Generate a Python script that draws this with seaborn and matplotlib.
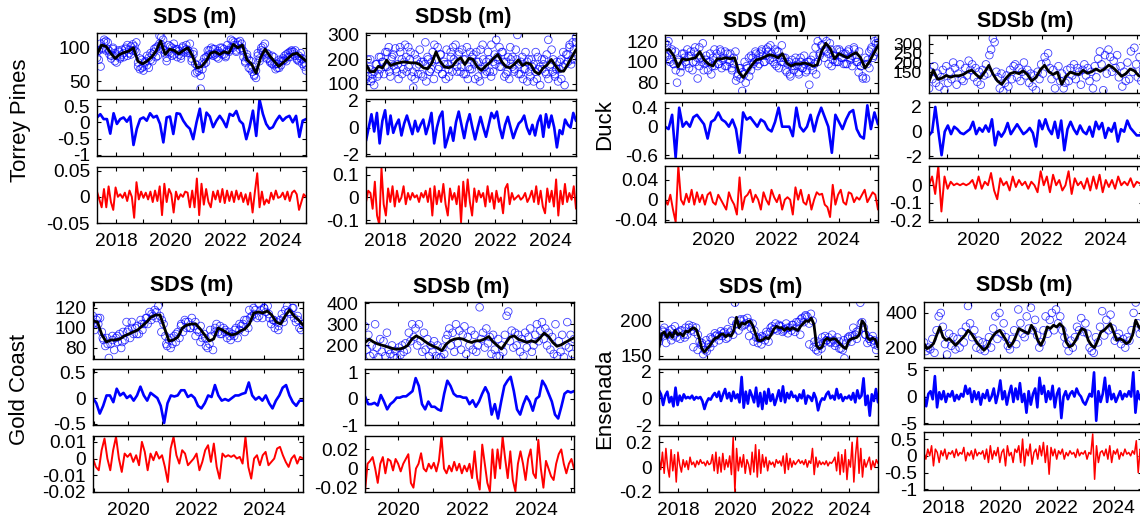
import numpy as np
import pandas as pd
import matplotlib
matplotlib.use("Agg")
import matplotlib.pyplot as plt
import seaborn as sns

# ---------------------------------------------------------------- data
# Torrey Pines
tp_span = (2017.3, 2024.95)
tp_sds_trend = [90, 104, 102, 92, 84, 90, 93, 95, 100, 80, 76, 80, 86, 95, 110, 90, 98, 96, 91, 96,
                100, 88, 70, 72, 80, 92, 94, 90, 94, 92, 105, 100, 104, 82, 76, 62, 85, 98, 88, 80,
                72, 78, 84, 90, 92, 86, 80]
tp_sds_pts = [85, 96, 72, 100, 108, 110, 98, 95, 88, 100, 80, 88, 94, 86, 97, 92, 100, 88, 97, 102,
              105, 96, 108, 72, 84, 70, 66, 80, 74, 85, 82, 90, 94, 100, 88, 118, 105, 112, 96, 85,
              104, 92, 100, 90, 98, 86, 95, 88, 100, 93, 104, 96, 92, 84, 90, 62, 74, 66, 39, 78,
              76, 86, 88, 96, 90, 98, 90, 86, 95, 92, 100, 90, 88, 96, 94, 112, 100, 108, 96, 104,
              110, 100, 95, 80, 86, 70, 80, 64, 58, 55, 88, 80, 96, 102, 106, 92, 84, 80, 76, 86,
              68, 76, 70, 80, 84, 82, 90, 86, 94, 96, 94, 88, 84, 80, 92, 76, 72, 66]
tp_sds_pts2 = [94, 82, 106, 98, 112, 96, 108, 90, 84, 98, 92, 78, 96, 84, 90, 86, 98, 104, 92, 90,
               96, 102, 94, 78, 68, 82, 72, 78, 88, 70, 92, 80, 98, 86, 102, 106, 116, 98, 92, 80,
               94, 102, 88, 106, 96, 98, 90, 84, 102, 96, 98, 92, 106, 80, 94, 76, 64, 70, 58, 68,
               84, 78, 96, 90, 100, 88, 98, 92, 84, 100, 90, 98, 86, 104, 96, 100, 110, 104, 94, 108,
               98, 106, 86, 78, 90, 82, 68, 72, 60, 66, 92, 84, 100, 94, 90, 84, 90, 78, 88, 74,
               76, 70, 82, 74, 80, 88, 80, 92, 86, 94, 90, 96, 82, 88, 84, 84, 78, 74]
tp_sds_blue = [0.15, 0.25, 0.10, 0.10, -0.35, 0.28, -0.05, 0.10, 0.15, 0.02, 0.18, -0.70, -0.20, 0.10,
               0.15, 0.05, 0.28, 0.15, 0.20, -0.05, -0.62, 0.15, 0.18, -0.36, 0.28, 0.26, 0.05, -0.10,
               -0.20, -0.52, 0.00, 0.42, -0.30, 0.30, 0.18, -0.15, 0.05, 0.20, 0.05, -0.15, 0.26, 0.20,
               0.35, 0.05, -0.05, -0.52, -0.15, 0.36, -0.42, 0.70, 0.26, -0.05, -0.20, -0.15, 0.05,
               0.20, 0.05, 0.15, 0.20, 0.00, 0.20, -0.45, 0.05, 0.10]
tp_sds_red = [0.01, -0.005, -0.02, 0.015, -0.02, 0.02, -0.01, -0.025, 0.018, 0.0, 0.005, -0.002, 0.008,
              -0.008, 0.012, 0.0, -0.04, 0.028, -0.005, 0.01, -0.002, 0.008, -0.005, 0.01, -0.01, 0.012,
              -0.008, 0.02, -0.035, 0.025, -0.01, 0.015, 0.005, -0.03, 0.01, -0.005, 0.005, 0.0, 0.01,
              0.008, -0.02, 0.012, -0.02, 0.035, -0.035, 0.025, -0.015, 0.015, -0.01, -0.02, 0.01,
              -0.005, 0.012, -0.01, 0.015, -0.012, 0.012, -0.008, 0.01, -0.01, 0.012, -0.005, 0.008,
              -0.01, 0.005, -0.015, 0.008, -0.03, 0.01, 0.045, -0.02, 0.01, -0.015, -0.005, -0.012,
              0.008, -0.005, 0.012, -0.002, 0.0, 0.008, -0.005, 0.01, -0.008, 0.008, 0.012, 0.005,
              -0.025, -0.01, 0.005, 0.0]

tp_sdsb_trend = [179, 150, 150, 172, 165, 197, 175, 182, 186, 190, 188, 186, 186, 180, 165, 162, 185,
                 231, 192, 170, 166, 172, 195, 207, 179, 205, 200, 170, 155, 172, 186, 205, 220, 190,
                 170, 166, 180, 198, 175, 186, 180, 150, 140, 165, 178, 200, 175, 152, 152, 180, 210, 240]
tp_sdsb_pts = [120, 200, 160, 110, 140, 95, 180, 130, 210, 160, 190, 140, 230, 170, 250, 130, 210, 175,
               245, 150, 120, 230, 200, 160, 260, 150, 250, 200, 130, 85, 220, 170, 140, 240, 190, 130,
               180, 110, 200, 150, 160, 230, 260, 200, 250, 170, 220, 140, 190, 120, 180, 130, 230, 150,
               200, 260, 170, 220, 150, 240, 140, 200, 250, 170, 230, 160, 220, 120, 190, 130, 110, 160,
               200, 140, 190, 230, 150, 260, 190, 220, 280, 200, 250, 170, 230, 130, 190, 150, 120, 200,
               210, 150, 240, 300, 180, 140, 210, 160, 230, 190, 200, 130, 170, 110, 150, 120, 160, 95,
               200, 180, 150, 220, 280, 170, 240, 200, 130, 160, 110, 190, 120, 170, 95, 220, 190, 250,
               180, 270, 200, 290]
tp_sdsb_pts2 = [160, 130, 200, 120, 150, 180, 140, 210, 190, 170, 230, 150, 200, 220, 160, 180, 250, 140,
                190, 210, 170, 230, 150, 120, 200, 180, 140, 190, 270, 210, 150, 190, 120, 200, 160,
                220, 140, 180, 240, 160, 210, 250, 190, 150, 230, 170, 200, 140, 120, 160, 210, 180,
                230, 190, 240, 260, 170, 150, 200, 130, 150, 180, 210, 170, 230, 190, 140, 210, 250,
                170, 160, 200, 140, 190, 120, 160, 110, 150, 200, 180, 230, 210, 170, 160, 200, 140,
                120, 180, 150, 140, 190, 160, 200, 230, 180, 220, 260, 200, 240, 270]
tp_sdsb_blue = [-1.0, 0.0, 1.0, -0.3, 1.1, -1.2, 0.5, 1.3, -0.5, 0.9, -0.4, 0.2, 0.6, -0.6, 0.3, 0.9,
                0.2, -0.5, 0.5, -0.3, 0.2, 0.6, -0.5, 0.2, 1.1, -1.2, 0.0, 0.8, 1.2, -1.5, -0.8, 0.0,
                -1.0, 0.4, 1.2, 0.2, -0.8, 0.3, 1.0, 0.0, -0.9, 0.0, 0.8, 0.0, -0.7, 0.2, 1.1, 0.7, 1.2,
                0.0, -0.8, 0.2, 0.8, 0.0, -0.8, -0.2, 0.3, 0.5, 0.9, 0.0, -0.5, 0.2, -0.6, 0.4, 0.9,
                -0.7, 1.0, 0.0, 0.9, 0.0, -1.5, -0.2, -0.5, 0.6, 0.2, 0.0, 1.1, 0.5]
tp_sdsb_red = [-0.02, 0.03, 0.02, -0.05, 0.07, -0.08, -0.12, 0.13, -0.03, -0.08, 0.04, -0.02, 0.05,
               -0.04, 0.03, -0.02, 0.0, 0.05, -0.03, 0.02, -0.01, 0.02, 0.0, 0.01, -0.02, 0.02, 0.0,
               0.03, -0.02, 0.04, -0.08, 0.05, -0.03, 0.03, -0.02, 0.06, -0.03, -0.08, 0.04, -0.01,
               0.02, -0.03, 0.05, -0.11, 0.07, -0.04, 0.08, -0.02, -0.08, 0.04, -0.02, 0.03, 0.0, 0.02,
               -0.04, 0.05, -0.02, 0.02, -0.05, 0.03, -0.02, 0.0, -0.07, 0.04, 0.06, -0.03, 0.02,
               -0.01, 0.0, 0.01, -0.01, 0.0, 0.02, -0.02, 0.0, 0.03, -0.02, 0.05, -0.03, 0.03, -0.04,
               -0.07, 0.04, -0.02, 0.03, -0.04, 0.08, -0.08, 0.03, -0.03, 0.06, -0.02, 0.02, -0.01,
               0.05, -0.05]

# Duck
duck_sds_span = (2018.46, 2025.25)
duck_sdsb_span = (2018.44, 2025.2)
duck_sds_trend = [111, 112, 106, 95, 103, 102, 103, 104, 110, 102, 98, 96, 103, 103, 104, 103, 104, 90,
                  85, 91, 97, 102, 103, 105, 107, 106, 104, 108, 99, 96, 98, 98, 99, 98, 96, 97, 110,
                  118, 113, 103, 108, 106, 104, 107, 109, 104, 94, 100, 108, 116]
duck_sds_pts = [118, 105, 120, 100, 112, 98, 110, 80, 102, 90, 96, 108, 100, 112, 94, 106, 92, 110, 100,
                84, 114, 104, 118, 98, 106, 92, 100, 88, 104, 96, 108, 98, 112, 94, 104, 110, 96, 102,
                108, 92, 98, 110, 86, 94, 84, 72, 88, 80, 94, 86, 92, 104, 100, 108, 96, 98, 110, 106,
                100, 112, 114, 102, 108, 100, 112, 96, 110, 104, 116, 100, 104, 90, 100, 86, 96, 92,
                104, 96, 88, 100, 94, 106, 90, 100, 78, 102, 92, 98, 88, 100, 106, 116, 124, 112, 120,
                108, 118, 96, 106, 100, 112, 100, 110, 104, 98, 108, 98, 112, 102, 106, 114, 104, 100,
                110, 96, 86, 98, 84, 102, 94, 112, 104, 120, 110, 118]
duck_sds_pts2 = [106, 116, 102, 110, 98, 92, 100, 96, 108, 104, 98, 106, 110, 100, 114, 104, 96, 100, 92,
                 102, 100, 108, 96, 112, 104, 98, 110, 102, 96, 108, 100, 94, 104, 82, 88, 94, 90, 100,
                 96, 104, 106, 98, 110, 102, 108, 112, 100, 106, 110, 116, 104, 98, 110, 94, 100, 104,
                 92, 98, 88, 102, 96, 100, 90, 104, 94, 98, 92, 100, 96, 106, 114, 120, 108, 116, 104,
                 110, 98, 112, 102, 106, 100, 112, 104, 108, 98, 110, 104, 96, 112, 100, 90, 96, 84,
                 104, 98, 110, 114, 106, 118, 122]
duck_sds_blue = [0.0, -0.05, 0.25, -0.65, 0.4, 0.0, 0.1, 0.0, 0.2, 0.25, 0.15, 0.05, -0.25, 0.1, 0.15,
                 0.3, 0.15, 0.1, 0.0, 0.15, -0.05, -0.55, 0.3, 0.15, 0.2, 0.1, 0.0, 0.15, 0.1, -0.05,
                 -0.1, 0.1, 0.4, 0.0, 0.0, 0.0, -0.2, 0.4, 0.0, -0.1, 0.0, 0.25, -0.1, 0.2, 0.4, 0.2,
                 0.0, -0.55, 0.25, 0.1, -0.05, 0.15, 0.3, 0.35, -0.05, -0.2, -0.25, 0.45, -0.05, 0.3,
                 0.05]
duck_sds_red = [0.0, -0.01, 0.01, -0.02, -0.045, 0.068, 0.0, -0.01, 0.012, -0.005, 0.02, -0.01, 0.015,
                -0.005, 0.01, -0.01, 0.01, 0.015, -0.005, -0.01, 0.01, 0.0, -0.01, -0.02, 0.015, 0.0,
                -0.01, -0.03, 0.045, -0.02, 0.005, 0.01, 0.02, -0.005, 0.01, 0.0, -0.02, 0.015, 0.0,
                -0.01, 0.02, 0.005, -0.005, 0.01, -0.02, 0.0, 0.005, 0.0, -0.03, 0.025, 0.0, 0.02,
                -0.005, -0.01, 0.01, -0.02, 0.0, 0.015, 0.01, 0.012, -0.01, -0.015, -0.035, 0.03, -0.01,
                0.01, 0.02, -0.005, -0.01, 0.015, 0.012, -0.005, 0.005, 0.0, 0.01, 0.02, -0.005, 0.005,
                0.015, 0.01, -0.02]

duck_sdsb_trend = [97, 160, 110, 115, 130, 120, 128, 128, 135, 150, 159, 135, 115, 148, 185, 135, 100,
                   82, 115, 140, 148, 140, 155, 135, 100, 120, 160, 185, 150, 135, 148, 82, 125, 148,
                   140, 135, 158, 142, 150, 165, 152, 165, 186, 172, 150, 125, 140, 165, 155, 128, 124]
duck_sdsb_pts = [60, 150, 110, 180, 90, 140, 70, 120, 160, 50, 180, 90, 150, 110, 200, 170, 80, 140, 190,
                 110, 100, 170, 130, 210, 160, 190, 120, 170, 95, 150, 80, 160, 130, 190, 140, 240, 270,
                 330, 310, 150, 120, 60, 140, 45, 90, 130, 70, 160, 110, 180, 190, 120, 170, 100, 150,
                 200, 130, 160, 90, 140, 70, 130, 50, 150, 110, 190, 140, 230, 200, 250, 170, 110, 160,
                 60, 130, 180, 100, 140, 60, 90, 160, 100, 170, 130, 190, 110, 170, 150, 80, 160, 190,
                 130, 170, 100, 150, 60, 180, 120, 220, 260, 190, 50, 240, 140, 270, 230, 150, 210, 170,
                 240, 120, 180, 70, 150, 100, 200, 110, 260, 150, 280, 190, 120, 230, 100, 160]
duck_sdsb_blue = [-0.3, 0.0, 2.0, 0.0, -1.9, 0.0, 0.5, -0.2, 0.4, 0.2, -0.1, -0.2, 0.0, 0.2, 0.8, -0.2,
                  0.3, 0.0, 0.5, 0.0, 1.0, -1.1, 0.0, -0.4, 0.0, 0.7, -0.2, 0.2, 0.6, 0.2, -0.2, 0.0, 0.3,
                  -0.1, -1.2, 0.9, 0.2, 1.0, 0.2, -0.2, 0.8, -0.5, 0.9, -1.5, 0.2, 0.8, 0.2, -0.2, 0.5,
                  0.0, -0.2, 0.4, -0.4, 0.8, 0.2, 0.7, -0.5, 0.3, 0.0, 0.7, -0.8, 0.2, 0.0, 0.9, 0.3,
                  0.0, -0.3, -0.3, -0.1]
duck_sdsb_red = [0.0, 0.05, -0.05, 0.11, -0.15, 0.05, -0.02, 0.02, 0.0, 0.01, 0.0, 0.01, 0.0, 0.01, 0.03,
                 -0.02, 0.05, -0.02, 0.02, 0.0, 0.07, -0.03, -0.08, 0.04, 0.0, 0.02, -0.03, 0.05, -0.01,
                 0.03, 0.0, 0.02, -0.02, 0.02, 0.0, -0.04, 0.08, 0.0, 0.05, -0.04, 0.06, 0.0, 0.03,
                 -0.03, 0.0, 0.08, -0.05, 0.04, 0.0, 0.02, -0.02, 0.04, -0.03, 0.05, -0.02, 0.06, -0.04,
                 0.03, -0.01, 0.03, -0.02, 0.05, 0.0, 0.02, 0.0, 0.04, -0.01, 0.02, 0.01, 0.02]

# Gold Coast
gc_sds_span = (2018.97, 2025.15)
gc_sdsb_span = (2019.04, 2025.1)
gc_sds_trend = [107, 106, 93, 86, 88, 88, 89, 92, 94, 96, 98, 102, 106, 111, 113, 113, 100, 87, 88, 91,
                100, 103, 104, 104, 99, 93, 87, 89, 100, 98, 95, 93, 94, 97, 99, 104, 115, 116, 115,
                117, 113, 106, 104, 112, 118, 112, 108, 103]
gc_sds_pts = [112, 98, 108, 104, 110, 96, 88, 82, 90, 70, 84, 92, 78, 90, 86, 94, 80, 96, 88, 106, 98,
              90, 106, 94, 100, 102, 94, 108, 98, 104, 110, 104, 116, 108, 112, 118, 110, 122, 112, 108,
              104, 92, 82, 88, 80, 84, 92, 86, 96, 90, 104, 96, 108, 100, 106, 100, 110, 102, 106, 98,
              96, 102, 90, 94, 82, 80, 84, 92, 78, 96, 104, 96, 102, 94, 100, 98, 90, 96, 88, 94, 92,
              100, 90, 98, 102, 104, 96, 108, 100, 110, 112, 120, 118, 110, 124, 118, 110, 120, 116,
              122, 110, 104, 108, 100, 106, 98, 108, 114, 106, 118, 122, 116, 114, 120, 110, 106, 112,
              100, 98, 104]
gc_sds_pts2 = [104, 110, 90, 84, 88, 92, 86, 96, 100, 94, 104, 110, 114, 116, 96, 84, 90, 94, 102, 106,
               100, 92, 86, 90, 98, 100, 94, 96, 92, 98, 104, 108, 118, 114, 112, 120, 114, 108, 102,
               110, 116, 120, 108, 104]
gc_sds_blue = [0.0, -0.1, -0.3, -0.15, 0.05, 0.05, -0.08, 0.18, 0.05, 0.1, 0.0, 0.05, -0.05, 0.05, 0.22,
               0.05, -0.05, 0.1, 0.05, 0.0, -0.15, -0.48, -0.1, 0.05, 0.03, 0.05, 0.15, 0.15, 0.02,
               0.06, 0.0, -0.15, -0.2, -0.1, 0.05, 0.02, 0.25, 0.05, -0.05, -0.02, -0.05, 0.0, 0.05,
               0.05, 0.08, 0.1, 0.3, 0.05, -0.03, 0.02, -0.05, 0.05, -0.1, -0.2, -0.05, 0.05, 0.2, 0.25,
               0.05, -0.08, -0.15, -0.05, -0.05]
gc_sds_red = [0.0, -0.005, -0.007, 0.005, 0.012, 0.0, -0.007, 0.005, 0.013, 0.0, -0.008, 0.003, 0.001,
              0.003, -0.002, 0.002, -0.004, 0.01, 0.004, -0.007, 0.003, -0.001, 0.004, 0.0, 0.002,
              -0.005, -0.014, 0.006, 0.013, 0.002, -0.003, 0.005, 0.003, -0.004, -0.002, 0.0, 0.003,
              -0.007, -0.002, 0.005, 0.008, -0.002, 0.009, -0.005, -0.012, 0.003, 0.001, 0.002, 0.001,
              0.002, 0.0, 0.001, -0.003, 0.013, -0.005, -0.012, 0.0, 0.002, -0.004, 0.002, 0.004,
              -0.004, -0.002, 0.0, 0.006, 0.007, 0.002, -0.002, -0.005, 0.0, 0.002, -0.003, 0.001, 0.0]

gc_sdsb_trend = [214, 230, 216, 207, 201, 195, 188, 183, 183, 188, 200, 230, 245, 235, 220, 206, 196,
                 188, 175, 205, 222, 230, 233, 230, 220, 214, 222, 222, 230, 242, 218, 200, 183, 212,
                 240, 245, 228, 222, 214, 222, 215, 235, 258, 243, 215, 196, 203, 215, 226, 236]
gc_sdsb_pts = [290, 180, 250, 150, 200, 160, 300, 190, 145, 230, 170, 220, 150, 260, 180, 160, 200, 150,
               175, 140, 190, 155, 200, 170, 210, 180, 260, 220, 300, 240, 280, 200, 300, 220, 170, 260,
               180, 230, 150, 200, 170, 220, 150, 200, 140, 145, 190, 160, 230, 250, 280, 200, 260, 170,
               300, 210, 270, 180, 250, 290, 160, 240, 200, 270, 180, 250, 170, 200, 380, 230, 260, 190,
               280, 210, 240, 160, 250, 180, 150, 230, 150, 200, 170, 250, 340, 360, 220, 270, 190, 260,
               200, 250, 170, 230, 150, 260, 190, 240, 280, 170, 200, 250, 300, 220, 270, 310, 230, 280,
               200, 260, 180, 240, 160, 300, 150, 220, 170, 250, 145, 200, 310, 190, 250, 160, 230]
gc_sdsb_blue = [0.1, -0.2, -0.2, -0.15, -0.25, 0.15, -0.1, -0.4, -0.2, -0.1, 0.05, 0.05, 0.1, 0.1, 0.2,
                0.3, 0.8, 0.5, -0.2, -0.4, -0.1, -0.3, -0.3, -0.4, -0.45, 0.2, 0.7, 0.5, 0.2, 0.1, 0.1,
                0.05, 0.05, -0.2, -0.05, -0.3, -0.1, 0.2, 0.45, 0.2, -0.6, -0.2, -0.75, -0.1, 0.5, 0.7,
                0.85, 0.3, -0.4, -0.6, -0.2, 0.1, -0.1, -0.45, 0.0, 0.1, 0.7, 0.5, 0.2, -0.1, -0.6,
                -0.75, -0.3, 0.2, 0.3, 0.25, 0.3]
gc_sdsb_red = [-0.024, 0.005, 0.008, 0.012, 0.0, -0.015, 0.005, 0.012, -0.005, 0.01, 0.008, -0.002,
               0.01, 0.005, -0.003, 0.005, 0.01, 0.015, -0.015, -0.02, 0.0, 0.005, 0.016, 0.0, -0.003,
               0.005, 0.0, 0.006, -0.003, 0.008, 0.034, 0.0, -0.005, 0.003, -0.003, 0.007, -0.002,
               0.005, -0.005, 0.003, -0.003, 0.005, -0.01, 0.018, -0.01, -0.022, 0.025, 0.005, -0.015,
               -0.024, 0.02, -0.01, 0.02, 0.0, 0.033, 0.01, -0.01, 0.018, -0.012, -0.024, 0.005, 0.018,
               0.005, -0.012, 0.01, 0.02, -0.005, -0.01, 0.03, 0.0, -0.02, 0.008, 0.0, -0.008, -0.012,
               0.005, 0.015, 0.02, 0.005, -0.005, 0.005, 0.01, 0.0]

# Ensenada
ens_span = (2017.33, 2025.0)
ens_sds_trend = [162, 181, 184, 176, 183, 176, 186, 180, 182, 178, 185, 184, 188, 190, 187, 176, 160,
                 155, 160, 164, 170, 175, 176, 180, 181, 177, 180, 178, 186, 205, 190, 197, 195, 198,
                 200, 194, 183, 172, 171, 173, 176, 174, 180, 188, 192, 190, 190, 186, 190, 187, 190,
                 188, 186, 192, 196, 200, 199, 204, 195, 164, 160, 162, 172, 175, 172, 174, 174, 170,
                 166, 162, 160, 171, 174, 175, 176, 180, 200, 195, 176, 172, 175, 173, 162]
ens_sds_pts = [170, 178, 186, 190, 168, 182, 186, 172, 178, 192, 176, 184, 174, 186, 180, 190, 180, 194,
               186, 192, 184, 190, 180, 170, 165, 152, 158, 156, 166, 162, 174, 168, 178, 180, 172, 185,
               178, 184, 174, 176, 183, 186, 180, 226, 195, 186, 200, 192, 202, 196, 204, 198, 190, 196,
               186, 176, 168, 174, 166, 176, 172, 180, 170, 184, 192, 188, 196, 186, 194, 192, 184, 188,
               196, 182, 190, 186, 194, 184, 190, 198, 180, 204, 198, 208, 206, 196, 210, 200, 170, 158,
               156, 164, 160, 168, 178, 172, 176, 170, 180, 172, 168, 176, 170, 160, 158, 146, 168, 174,
               178, 170, 190, 180, 174, 186, 226, 198, 190, 180, 168, 174, 170, 178, 166, 158, 164]
ens_sds_pts2 = [176, 184, 180, 188, 182, 186, 176, 190, 162, 158, 168, 172, 176, 182, 178, 182, 188, 200,
                196, 202, 194, 178, 170, 176, 178, 184, 190, 188, 192, 186, 190, 194, 198, 202, 206,
                166, 162, 170, 176, 172, 168, 164, 160, 172, 176, 178, 184, 196, 180, 174, 172, 170]
ens_sds_blue = [0.6, 0.3, -0.5, 0.2, 0.5, -0.3, 0.1, -0.6, 0.8, -0.5, 0.2, -0.2, 0.3, 0.0, 0.1, 0.0, 0.2,
                -0.1, 0.1, 0.0, 0.1, -0.2, -0.8, -0.3, 0.0, -0.1, 0.2, 0.4, 0.1, 0.5, -0.2, 0.3, 0.7,
                0.0, 0.4, -0.2, 0.5, 0.0, 0.3, -0.3, 1.6, -0.7, 0.5, -0.4, 0.6, 0.2, -0.3, 0.8, -0.6,
                0.4, -0.8, 0.5, -0.4, 0.7, -0.2, 0.3, -0.5, 0.0, 0.6, -0.2, 0.9, -0.3, 0.4, 0.0, 0.5,
                0.1, 0.2, -0.2, 0.3, 0.0, 0.6, -0.4, 0.2, 0.1, -0.2, 0.4, 0.0, -0.9, -0.3, 0.0, -0.1,
                0.3, 0.5, 0.0, 0.2, -0.1, 0.7, 0.0, 0.3, -0.2, 0.1, 0.0, 0.2, -0.1, 0.4, -0.3, 0.6, 0.0,
                0.2, 1.5, -0.5, 0.2, -1.3, 0.3, -0.2, 0.7, -0.3]
ens_sds_red = [0.08, -0.02, 0.12, -0.05, 0.15, 0.0, -0.08, 0.14, -0.03, 0.1, -0.12, 0.12, 0.02, -0.04,
               0.06, 0.0, 0.05, -0.02, 0.08, 0.02, 0.04, 0.0, 0.05, 0.02, 0.06, 0.03, 0.04, 0.01, 0.05,
               0.02, 0.03, 0.1, -0.03, 0.12, -0.05, 0.08, -0.04, 0.11, -0.02, 0.06, 0.0, 0.09, -0.06,
               0.24, -0.2, 0.15, -0.03, 0.08, 0.0, 0.1, -0.05, 0.06, 0.02, -0.06, 0.12, -0.04, 0.18,
               -0.08, 0.14, -0.05, 0.1, 0.0, 0.08, -0.03, 0.05, 0.02, 0.04, 0.0, 0.06, 0.03, 0.05, 0.01,
               0.09, -0.05, 0.11, -0.02, 0.07, 0.0, 0.05, 0.02, 0.04, 0.06, 0.03, 0.05, 0.02, 0.06, 0.0,
               0.05, 0.03, 0.15, -0.06, 0.08, 0.0, 0.05, 0.02, 0.04, 0.02, 0.05, 0.01, 0.04, 0.03, 0.05,
               0.08, -0.03, 0.12, -0.06, 0.1, -0.04, 0.14, -0.1, 0.06, 0.0, 0.2, -0.12, 0.1, 0.24,
               -0.05, 0.15, -0.08, 0.06, 0.0, 0.04, 0.08, -0.02, 0.05, 0.0, 0.06, 0.03]

ens_sdsb_trend = [223, 194, 204, 223, 271, 319, 262, 242, 252, 233, 213, 233, 252, 271, 300, 281, 252,
                  223, 204, 185, 204, 242, 271, 290, 300, 271, 242, 204, 223, 262, 310, 300, 290, 281,
                  329, 300, 242, 213, 252, 319, 310, 329, 319, 338, 319, 233, 204, 213, 242, 281, 310,
                  300, 242, 213, 200, 242, 290, 300, 319, 338, 290, 242, 252, 242, 223, 233, 271, 358,
                  319, 300]
ens_sdsb_pts = [230, 180, 200, 190, 250, 170, 300, 380, 400, 320, 220, 160, 280, 210, 260, 190, 250, 200,
                290, 230, 320, 440, 340, 260, 300, 200, 240, 190, 230, 180, 220, 260, 200, 310, 380, 250,
                400, 280, 340, 260, 210, 190, 250, 300, 220, 420, 340, 280, 260, 380, 310, 430, 300, 360,
                270, 200, 230, 300, 380, 280, 360, 400, 300, 420, 340, 380, 300, 260, 220, 180, 240, 200,
                260, 320, 300, 370, 290, 340, 280, 200, 180, 170, 260, 230, 320, 410, 270, 360, 300, 390,
                310, 240, 260, 280, 220, 250, 200, 260, 240, 300, 400, 460, 340, 280, 310]
ens_sdsb_blue = [0.0, -1.8, 0.5, 1.0, -0.5, 3.8, -2.0, 0.8, -0.5, 1.0, -1.0, 0.5, 0.0, 1.0, -0.8, 0.3,
                 -0.5, 0.5, 0.0, 2.0, 0.5, 1.5, -1.0, 1.0, -0.5, 0.8, -1.5, 0.5, -0.3, 1.2, -0.8, 0.0,
                 1.5, -1.2, 0.5, 3.0, -0.5, 1.0, -1.5, 0.5, 2.0, -1.0, 1.5, -0.5, 2.5, -1.0, 0.5, -3.0,
                 1.0, -1.5, 0.5, 1.5, -2.0, 3.5, 0.5, 2.0, -1.0, 1.0, -0.5, 2.0, -2.0, 0.5, 1.5, -4.0,
                 0.0, 1.0, -0.5, 0.5, 1.0, 0.0, 1.5, 0.5, 0.0, -1.0, -1.5, -0.5, 0.5, 0.0, 4.5, -4.5,
                 1.0, -1.0, 0.5, 3.5, -1.0, 2.0, -0.5, 0.5, -1.0, 0.0, 1.0, -0.5, 0.5, 0.0, 1.0, 0.0,
                 4.5, -3.0, 1.0, -0.5, 1.0]
ens_sdsb_red = [0.1, -0.1, 0.2, 0.0, 0.3, -0.3, 0.2, 0.1, -0.2, 0.15, 0.0, 0.2, -0.1, 0.1, 0.05, 0.15,
                -0.05, 0.2, 0.0, 0.1, 0.05, 0.25, -0.15, 0.1, 0.0, 0.15, -0.1, 0.2, 0.0, 0.1, 0.05, 0.15,
                -0.1, 0.2, -0.2, 0.3, -0.1, 0.15, 0.0, 0.25, -0.2, 0.1, 0.2, -0.3, 0.3, 0.0, 0.1, -0.2,
                0.2, 0.1, 0.3, -0.2, 0.5, -0.3, 0.2, 0.0, 0.35, -0.25, 0.1, 0.2, -0.1, 0.3, 0.0, 0.4,
                -0.2, 0.3, -0.55, 0.25, 0.0, 0.2, -0.1, 0.15, 0.05, 0.2, -0.1, 0.1, 0.0, 0.15, 0.05,
                0.1, -0.05, 0.2, 0.0, 0.1, 0.05, 0.15, -0.1, 0.1, 0.05, 0.65, -0.7, 0.3, -0.2, 0.1,
                0.15, 0.0, 0.2, -0.1, 0.3, -0.2, 0.15, 0.05, 0.2, -0.1, 0.1, 0.0, 0.2, 0.05, 0.1, 0.0,
                0.15, 0.05, 0.45, -0.5, 0.2, 0.1]

titles = ["SDS (m)", "SDSb (m)"]
sites = ["Torrey Pines", "Duck", "Gold Coast", "Ensenada"]

# ---------------------------------------------------------------- style
sns.set_theme(style="ticks")
plt.rcParams["font.family"] = ["Liberation Sans", "DejaVu Sans"]
plt.rcParams["axes.unicode_minus"] = False

W, H = 1140, 523
fig = plt.figure(figsize=(W / 100, H / 100), dpi=100)
fig.patch.set_facecolor("white")


def rect(x0, x1, y0, y1):
    return [x0 / W, 1 - y1 / H, (x1 - x0) / W, (y1 - y0) / H]


def frame(values, span):
    return pd.DataFrame({"year": np.linspace(span[0], span[1], len(values)), "value": values})


def style(ax, span, ylim, yticks, show_years, ysize=13.8):
    ax.set_xlim(*span)
    ax.set_ylim(*ylim)
    years = np.arange(int(np.ceil(span[0])), int(np.floor(span[1])) + 1)
    ax.set_xticks(years)
    ax.set_xticklabels([str(y) if show_years and y % 2 == 0 else "" for y in years])
    ax.set_yticks(yticks)
    ax.set_yticklabels([f"{v:g}" for v in yticks])
    ax.set_xlabel("")
    ax.set_ylabel("")
    ax.tick_params(direction="in", length=3, width=0.8, top=True, right=True,
                   labelsize=13.8, pad=5, colors="black")
    ax.tick_params(axis="y", labelsize=ysize)
    ax.tick_params(axis="x", pad=7)
    for s in ax.spines.values():
        s.set_visible(True)
        s.set_linewidth(1.0)
        s.set_color("black")
    ax.set_facecolor("white")
    ax.grid(False)


def column(xr, rows, span, pts, trend, blue, red, ylims, yticks, title, title_xy,
           red_lw=1.4, top_ysize=13.8):
    a1 = fig.add_axes(rect(xr[0], xr[1], *rows[0]))
    obs = pd.concat([frame(p, span) for p in pts], ignore_index=True)
    sns.scatterplot(data=obs, x="year", y="value", ax=a1, s=30, marker="o",
                    color="blue", facecolor="none", edgecolor="blue", linewidth=0.6,
                    alpha=0.75, legend=False)
    sns.lineplot(data=frame(trend, span), x="year", y="value", ax=a1, color="black",
                 linewidth=2.0, estimator=None, sort=False, legend=False)
    style(a1, span, ylims[0], yticks[0], False, top_ysize)

    a2 = fig.add_axes(rect(xr[0], xr[1], *rows[1]))
    sns.lineplot(data=frame(blue, span), x="year", y="value", ax=a2, color="blue",
                 linewidth=1.9, estimator=None, sort=False, legend=False)
    style(a2, span, ylims[1], yticks[1], False)

    a3 = fig.add_axes(rect(xr[0], xr[1], *rows[2]))
    sns.lineplot(data=frame(red, span), x="year", y="value", ax=a3, color="red",
                 linewidth=red_lw, estimator=None, sort=False, legend=False)
    style(a3, span, ylims[2], yticks[2], True)

    fig.text(title_xy[0] / W, 1 - title_xy[1] / H, title, ha="center", va="center",
             fontsize=15.5, fontweight="bold", color="black")


top_rows = [(33, 90), (99, 156), (167, 223)]
duck_rows = [(35, 93), (102, 158), (166, 222)]
bot_rows = [(302, 359), (369, 425), (436, 492)]
ens_b_rows = [(302, 358), (367, 424), (432, 490)]

column((97, 306), top_rows, tp_span, [tp_sds_pts, tp_sds_pts2], tp_sds_trend, tp_sds_blue,
       tp_sds_red, [(37, 122), (-1.04, 0.72), (-0.05, 0.057)],
       [[50, 100], [-1, -0.5, 0, 0.5], [-0.05, 0, 0.05]], titles[0], (195, 17.5))
column((366, 576), top_rows, tp_span, [tp_sdsb_pts, tp_sdsb_pts2], tp_sdsb_trend, tp_sdsb_blue,
       tp_sdsb_red, [(75, 308), (-2.15, 2.15), (-0.113, 0.135)],
       [[100, 200, 300], [-2, 0, 2], [-0.1, 0, 0.1]], titles[1], (463, 17.5))
column((665, 878), duck_rows, duck_sds_span, [duck_sds_pts, duck_sds_pts2], duck_sds_trend,
       duck_sds_blue, duck_sds_red, [(70, 126), (-0.66, 0.52), (-0.045, 0.068)],
       [[80, 100, 120], [-0.6, 0, 0.4], [-0.04, 0, 0.04]], titles[0], (765, 21))
column((929, 1143), duck_rows, duck_sdsb_span, [duck_sdsb_pts], duck_sdsb_trend, duck_sdsb_blue,
       duck_sdsb_red, [(35, 349), (-2.13, 2.4), (-0.21, 0.11)],
       [[150, 200, 250, 300], [-2, 0, 2], [-0.2, -0.1, 0]], titles[1], (1025, 21),
       top_ysize=12.5)
column((93, 303), bot_rows, gc_sds_span, [gc_sds_pts, gc_sds_pts2], gc_sds_trend, gc_sds_blue,
       gc_sds_red, [(69, 126), (-0.52, 0.56), (-0.02, 0.0135)],
       [[80, 100, 120], [-0.5, 0, 0.5], [-0.02, -0.01, 0, 0.01]], titles[0], (192, 286))
column((365, 574), bot_rows, gc_sdsb_span, [gc_sdsb_pts], gc_sdsb_trend, gc_sdsb_blue,
       gc_sdsb_red, [(136, 405), (-1.0, 1.15), (-0.0245, 0.034)],
       [[200, 300, 400], [-1, 0, 1], [-0.02, 0, 0.02]], titles[1], (461, 287))
column((659, 878), bot_rows, ens_span, [ens_sds_pts, ens_sds_pts2], ens_sds_trend, ens_sds_blue,
       ens_sds_red, [(145, 227), (-2, 2.2), (-0.2, 0.25)],
       [[150, 200], [-2, 0, 2], [-0.2, 0, 0.2]], titles[0], (761, 288), red_lw=1.1)
column((924, 1142), ens_b_rows, ens_span, [ens_sdsb_pts], ens_sdsb_trend, ens_sdsb_blue,
       ens_sdsb_red, [(140, 463), (-5.1, 5.5), (-1.02, 0.71)],
       [[200, 400], [-5, 0, 5], [-1, -0.5, 0, 0.5]], titles[1], (1024, 286), red_lw=1.1)

# site names, rotated along the left of each block
for name, (x, y) in zip(sites, [(21, 120), (605, 125), (20, 389), (605, 399)]):
    fig.text(x / W, 1 - y / H, name, rotation=90, ha="center", va="center",
             fontsize=16, color="black")

fig.savefig("out.png", dpi=100, facecolor="white")
